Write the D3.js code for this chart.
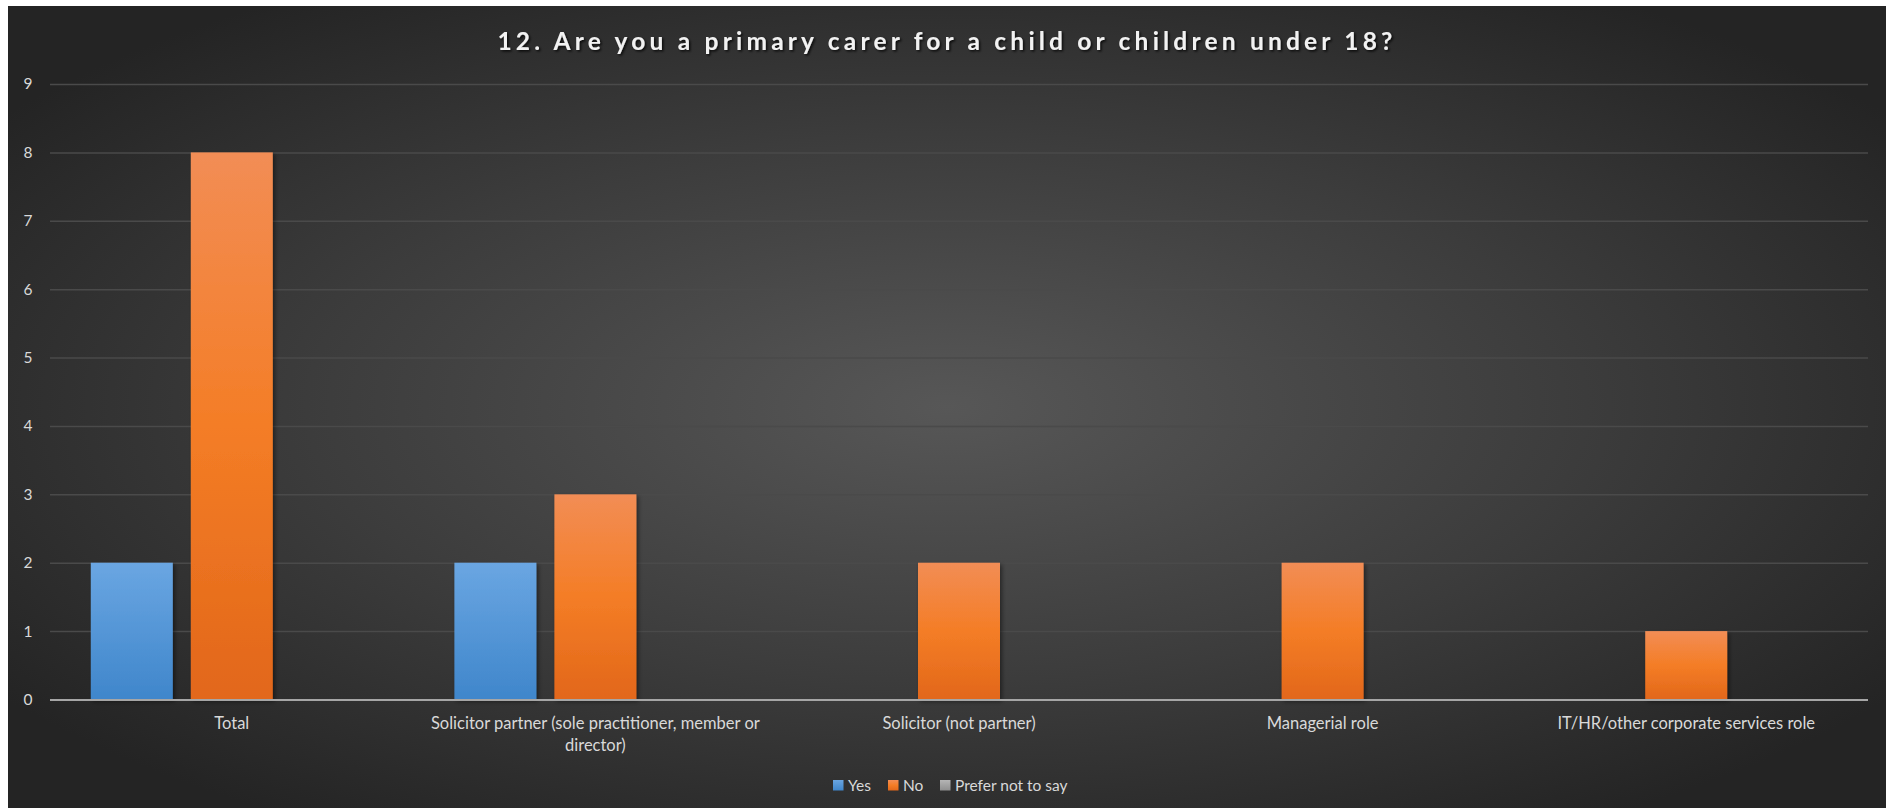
<!DOCTYPE html>
<html><head><meta charset="utf-8">
<script src="https://cdn.jsdelivr.net/npm/d3@7"></script>
<style>
html,body{margin:0;padding:0;background:#fff;}
svg{display:block;}
text{font-family:Lato,"Open Sans",sans-serif;}
</style></head>
<body>
<svg id="chart" width="1886" height="810"></svg>
<script>
const title = "12. Are you a primary carer for a child or children under 18?";
const categories = ["Total","Solicitor partner (sole practitioner, member or director)","Solicitor (not partner)","Managerial role","IT/HR/other corporate services role"];
const seriesNames = ["Yes","No","Prefer not to say"];
const yesValues = [2,2,0,0,0];
const noValues = [8,3,2,2,1];
const preferValues = [0,0,0,0,0];
const yTicks = [0,1,2,3,4,5,6,7,8,9];

const seriesValues = [yesValues, noValues, preferValues];
const colors = [["#6aa6e2","#3f86cb"],["#f28d55","#f47d26","#e2671a"],["#b5b5b5","#8f8f8f"]];

const svg = d3.select("#chart");
const W = 1886, H = 810;
const chartX = 8, chartY = 6;
const defs = svg.append("defs");

const bg = defs.append("radialGradient").attr("id","bg")
  .attr("cx",0.5).attr("cy",0.5).attr("r",0.62).attr("fx",0.5).attr("fy",0.5);
bg.append("stop").attr("offset","0%").attr("stop-color","#575757");
bg.append("stop").attr("offset","55%").attr("stop-color","#3c3c3c");
bg.append("stop").attr("offset","100%").attr("stop-color","#242424");

seriesNames.forEach((s,i)=>{
  const g = defs.append("linearGradient").attr("id","g"+i).attr("x1",0).attr("y1",0).attr("x2",0).attr("y2",1);
  const c = colors[i];
  c.forEach((col,j)=>g.append("stop").attr("offset",(j/(c.length-1)*100)+"%").attr("stop-color",col));
});
const f = defs.append("filter").attr("id","sh").attr("x","-20%").attr("y","-20%").attr("width","150%").attr("height","150%");
f.append("feDropShadow").attr("dx",2).attr("dy",2).attr("stdDeviation",2).attr("flood-color","#000").attr("flood-opacity",0.45);
const ts = defs.append("filter").attr("id","tsh").attr("x","-10%").attr("y","-30%").attr("width","120%").attr("height","160%");
ts.append("feDropShadow").attr("dx",1.5).attr("dy",1.5).attr("stdDeviation",1.2).attr("flood-color","#000").attr("flood-opacity",0.8);

svg.append("rect").attr("x",chartX).attr("y",chartY).attr("width",W-chartX).attr("height",H-chartY-2).attr("fill","url(#bg)");

const plot = {left:50, right:1868, top:84, bottom:699.5};
const x0 = d3.scaleBand().domain(categories).range([plot.left, plot.right]).paddingInner(0.2245).paddingOuter(0.1122);
const x1 = d3.scaleBand().domain(seriesNames).range([0, x0.bandwidth()]).paddingInner(0.18);
const y = d3.scaleLinear().domain([0,9]).range([plot.bottom, plot.top]);

// gridlines
const yAxis = d3.axisLeft(y).tickValues(yTicks).tickSize(-(plot.right-plot.left)).tickFormat(d3.format("d")).tickPadding(18);
const ga = svg.append("g").attr("transform",`translate(${plot.left},0)`).call(yAxis);
ga.select(".domain").remove();
ga.selectAll(".tick line").attr("stroke","#4a4a4a").attr("stroke-width",1.5);
ga.selectAll(".tick text").attr("fill","#d9d9d9").attr("font-size",15.5).attr("x",-17.5);

// bars
const groups = svg.append("g").selectAll("g").data(categories).join("g")
  .attr("transform",d=>`translate(${x0(d)},0)`);
groups.selectAll("rect").data((d,i)=>seriesNames.map((s,k)=>({s,k,v:seriesValues[k][i]})).filter(e=>e.v>0))
  .join("rect")
  .attr("x",e=>x1(e.s)).attr("width",x1.bandwidth())
  .attr("y",e=>y(e.v)).attr("height",e=>y(0)-y(e.v))
  .attr("fill",e=>"url(#g"+e.k+")").attr("filter","url(#sh)");

// axis line
svg.append("line").attr("x1",plot.left).attr("x2",plot.right).attr("y1",y(0)+0.5).attr("y2",y(0)+0.5)
  .attr("stroke","#a6a6a6").attr("stroke-width",2);

// category labels
const labelY = 29;
const xAxis = d3.axisBottom(x0).tickSize(0).tickPadding(0);
const gx = svg.append("g").attr("transform",`translate(0,${y(0)})`).call(xAxis);
gx.select(".domain").remove();
gx.selectAll(".tick text").attr("fill","#d9d9d9").attr("font-size",16.5).attr("y",labelY).attr("dy",0)
  .each(function(d){
    const t = d3.select(this); const words = d.split(" "); t.text(null);
    let line = [], lineNo = 0;
    let ts = t.append("tspan").attr("x",0).attr("y",labelY);
    words.forEach(w=>{
      line.push(w); ts.text(line.join(" "));
      if (ts.node().getComputedTextLength() > 350 && line.length>1){
        line.pop(); ts.text(line.join(" ")); line=[w]; lineNo++;
        ts = t.append("tspan").attr("x",0).attr("y",labelY+lineNo*22).text(w);
      }
    });
  });

// title
const tt = svg.append("text").attr("x",(chartX+W)/2).attr("y",50).attr("text-anchor","middle")
  .attr("font-size",24.5).attr("font-weight",700).attr("fill","#f2f2f2").attr("filter","url(#tsh)").text(title);
const len = tt.node().getComputedTextLength();
tt.attr("letter-spacing",((899-len)/title.length).toFixed(2)+"px");

// legend
const legX = [833, 888, 940];
const lg = svg.append("g").selectAll("g").data(seriesNames).join("g")
  .attr("transform",(d,i)=>`translate(${legX[i]},780)`);
lg.append("rect").attr("width",10.5).attr("height",10.5).attr("y",0).attr("fill",(d,i)=>"url(#g"+i+")");
lg.append("text").attr("x",15).attr("y",10.5).attr("font-size",15.5).attr("fill","#d9d9d9").text(d=>d);
</script>
</body></html>
